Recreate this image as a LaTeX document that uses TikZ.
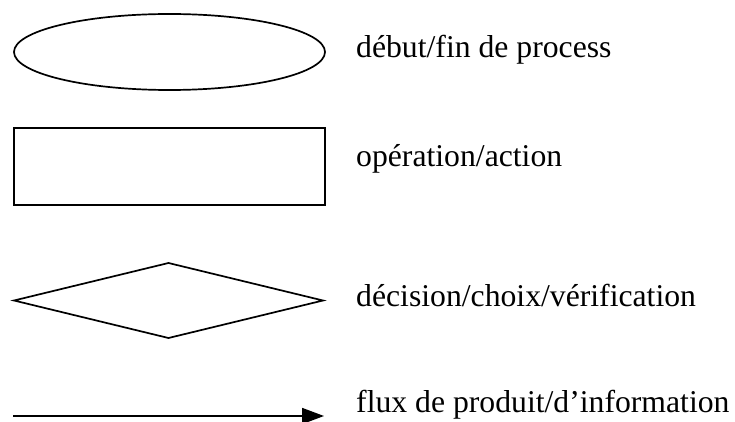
\documentclass[tikz,border=0pt]{standalone}
\usepackage{fontspec}
\setmainfont{Liberation Serif}
\usetikzlibrary{shapes.geometric,arrows.meta}
\tikzset{
  symb/.style={draw=black, line width=1.7pt, inner sep=0pt, outer sep=0pt},
  legend/.style={anchor=base west, inner sep=0pt, font=\fontsize{31.7}{38}\selectfont},
}
\begin{document}
\begin{tikzpicture}[x=1pt, y=-1pt]
  \useasboundingbox (0,0) rectangle (735,422);
  % start / end of process
  \node[symb, ellipse, minimum width=311pt, minimum height=76pt] (term) at (169.5,52) {};
  \node[legend] (tlab) at (356,58) {début/fin de process};
  % operation / action
  \node[symb, rectangle, minimum width=311pt, minimum height=77pt] (op) at (169.5,166.5) {};
  \node[legend] (olab) at (356,166) {opération/action};
  % decision / check
  \node[symb, diamond, minimum width=309pt, minimum height=75pt] (dec) at (168.5,300.5) {};
  \node[legend] (dlab) at (356,306) {décision/choix/vérification};
  % flow
  \coordinate (fa) at (13,416);
  \coordinate (fb) at (324,416);
  \draw[line width=1.7pt, -{Triangle[length=22pt,width=16pt]}] (fa) -- (fb);
  \node[legend] (flab) at (356,412) {flux de produit/d’information};
\end{tikzpicture}
\end{document}
